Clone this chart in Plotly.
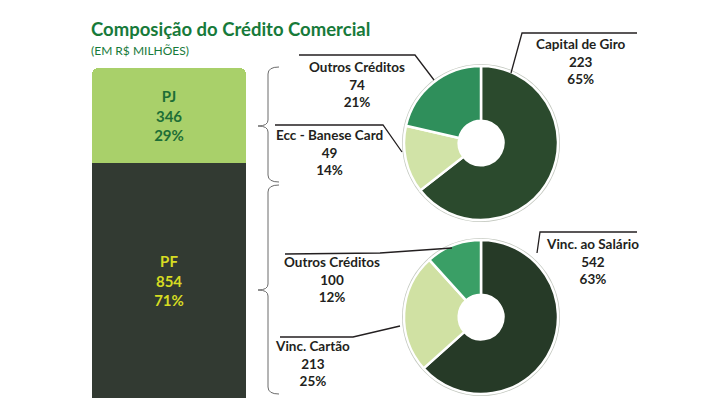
import plotly.graph_objects as go

# The page body adds an 8px margin, so the figure is sized to fit the window
OFF = 8
W, H = 724 - OFF, 401 - OFF

# ---------------- data ----------------
bar_segments = ["PF", "PJ"]
bar_values = [854, 346]
bar_pcts = ["71%", "29%"]

pj_labels = ["Capital de Giro", "Ecc - Banese Card", "Outros Créditos"]
pj_values = [223, 49, 74]
pj_pcts = ["65%", "14%", "21%"]

pf_labels = ["Vinc. ao Salário", "Vinc. Cartão", "Outros Créditos"]
pf_values = [542, 213, 100]
pf_pcts = ["63%", "25%", "12%"]

title_text = "Composição do Crédito Comercial"
subtitle_text = "(EM R$ MILHÕES)"

# ---------------- style ----------------
GREEN = "#177a3a"
DARK = "#231f20"
LABEL_FONT = "Lato, 'Open Sans', sans-serif"

bar_colors = {"PF": "#323a32", "PJ": "#a9d06a"}
bar_text_colors = {"PF": "#d6dc22", "PJ": "#1d6e36"}

pj_colors = ["#2b4a2d", "#d1e3a7", "#2f8f5b"]
pf_colors = ["#263a27", "#d0e1a3", "#3a9f66"]


# reference-window pixel -> figure coordinates
def wx(x):
    return x - OFF


def wy(y):
    return y - OFF


def px(x):
    return wx(x) / W


def py(y):
    return 1 - wy(y) / H


fig = go.Figure()

# ---------------- stacked bar ----------------
for seg, val, pct in zip(bar_segments, bar_values, bar_pcts):
    fig.add_trace(go.Bar(
        x=["total"], y=[val], width=1,
        marker=dict(color=bar_colors[seg], line=dict(width=0)),
        text=[f"<b>{seg}</b><br><b>{val}</b><br><b>{pct}</b>"],
        textposition="inside", insidetextanchor="middle",
        textfont=dict(family=LABEL_FONT, size=15, color=bar_text_colors[seg]),
        hoverinfo="skip", showlegend=False,
        xaxis="x", yaxis="y",
    ))


# ---------------- donuts ----------------
def add_donut(labels, values, colors, cx, cy, r, hole):
    rr = r + 2
    fig.add_trace(go.Pie(
        values=[1], labels=["rim"], hole=(r - 3) / rr, sort=False,
        marker=dict(colors=["#c4c9c0"], line=dict(width=0)),
        textinfo="none", hoverinfo="skip", showlegend=False,
        domain=dict(x=[px(cx - rr), px(cx + rr)], y=[py(cy + rr), py(cy - rr)]),
    ))
    fig.add_trace(go.Pie(
        labels=labels, values=values, hole=hole, sort=False,
        direction="clockwise", rotation=0,
        marker=dict(colors=colors, line=dict(color="white", width=2.5)),
        textinfo="none", hoverinfo="label+value", showlegend=False,
        domain=dict(x=[px(cx - r), px(cx + r)], y=[py(cy + r), py(cy - r)]),
    ))


add_donut(pj_labels, pj_values, pj_colors, 481, 143, 77, 0.29)
add_donut(pf_labels, pf_values, pf_colors, 481, 317, 77, 0.29)

# ---------------- annotations ----------------
ann = []


def txt(x, y, s, size=13.5, color=DARK, bold=True, xanchor="center", family=LABEL_FONT):
    ann.append(dict(
        x=wx(x), y=wy(y), xref="x2", yref="y2", text=s if not bold else f"<b>{s}</b>",
        showarrow=False, xanchor=xanchor, yanchor="middle", align="center",
        font=dict(family=family, size=size, color=color),
    ))


def label_block(x, y, name, val, pct):
    txt(x, y, f"{name}<br>{val}<br>{pct}")


txt(89, 29, title_text, size=18.5, color=GREEN, xanchor="left")
txt(89, 50, subtitle_text, size=12, color=GREEN, bold=False, xanchor="left")

# top donut labels (Capital de Giro, Ecc, Outros)
label_block(581, 61, pj_labels[0], pj_values[0], pj_pcts[0])
label_block(329, 152, pj_labels[1], pj_values[1], pj_pcts[1])
label_block(357, 84, pj_labels[2], pj_values[2], pj_pcts[2])

# bottom donut labels (Salário, Cartão, Outros)
label_block(592, 261, pf_labels[0], pf_values[0], pf_pcts[0])
label_block(312, 363, pf_labels[1], pf_values[1], pf_pcts[1])
label_block(332, 279, pf_labels[2], pf_values[2], pf_pcts[2])

# ---------------- shapes (leader lines & braces) ----------------
shapes = []
LINE = dict(color=DARK, width=1.3)


def poly(pts, line=LINE):
    d = "M " + " L ".join(f"{wx(x)} {wy(y)}" for x, y in pts)
    shapes.append(dict(type="path", path=d, xref="x2", yref="y2", line=line))


poly([(299, 55), (415, 55), (434, 80)])          # Outros Créditos (PJ)
poly([(275, 125), (383, 125), (402, 152)])       # Ecc
poly([(511, 73), (522, 33), (637, 33)])          # Capital de Giro
poly([(285, 254), (380, 253), (452, 248)])       # Outros Créditos (PF)
poly([(280, 337), (353, 337), (400, 326)])       # Vinc. Cartão
poly([(537, 253), (540, 232), (637, 232)])       # Vinc. ao Salário

BRACE = dict(color="#6b6b6b", width=1)


def brace(top, tip, bottom):
    X0, X1, XT = wx(279), wx(268), wx(258)
    t, m, b = wy(top), wy(tip), wy(bottom)
    d = (f"M {X0} {t} Q {X1} {t} {X1} {t + 7} L {X1} {m - 6} "
         f"Q {X1} {m} {XT} {m} Q {X1} {m} {X1} {m + 6} "
         f"L {X1} {b - 7} Q {X1} {b} {X0} {b}")
    shapes.append(dict(type="path", path=d, xref="x2", yref="y2", line=BRACE))


brace(67, 126, 182)
brace(185, 290, 394)

fig.update_layout(
    width=W, height=H,
    margin=dict(l=0, r=0, t=0, b=0),
    paper_bgcolor="white", plot_bgcolor="rgba(0,0,0,0)",
    barmode="stack", bargap=0, barcornerradius=6,
    xaxis=dict(domain=[px(92), px(246)], range=[-0.5, 0.5], visible=False, fixedrange=True),
    yaxis=dict(domain=[py(398), py(68)], range=[0, sum(bar_values)], visible=False, fixedrange=True),
    xaxis2=dict(domain=[0, 1], range=[0, W], visible=False, anchor="y2", fixedrange=True),
    yaxis2=dict(domain=[0, 1], range=[H, 0], visible=False, anchor="x2", fixedrange=True),
    annotations=ann,
    shapes=shapes,
    showlegend=False,
)

fig.add_trace(go.Scatter(x=[0], y=[0], xaxis="x2", yaxis="y2", mode="markers",
                         marker=dict(opacity=0), hoverinfo="skip", showlegend=False))

fig.write_html("out.html")
